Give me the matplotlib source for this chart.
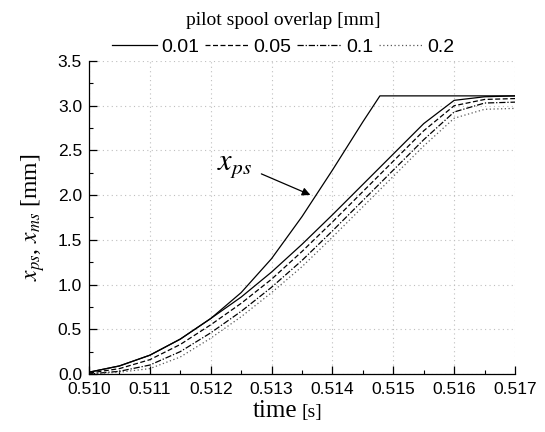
import matplotlib
matplotlib.use("Agg")
import matplotlib.pyplot as plt
from matplotlib.ticker import MultipleLocator, FormatStrFormatter

plt.rcParams['mathtext.fontset'] = 'stix'

# ---- data ----
t_ps = [0.5100, 0.5105, 0.5110, 0.5115, 0.5120, 0.5125, 0.5130, 0.5135, 0.5140, 0.5145, 0.51478, 0.5170]
x_ps = [0.02, 0.09, 0.21, 0.39, 0.62, 0.91, 1.29, 1.76, 2.28, 2.82, 3.11, 3.11]

t_ms = [0.5100, 0.5105, 0.5110, 0.5115, 0.5120, 0.5125, 0.5130, 0.5135, 0.5140,
        0.5145, 0.5150, 0.5155, 0.5160, 0.5165, 0.5170]
ms_001 = [0.02, 0.09, 0.21, 0.39, 0.62, 0.86, 1.14, 1.45, 1.78, 2.12, 2.46, 2.80, 3.06, 3.10, 3.11]
ms_005 = [0.01, 0.06, 0.16, 0.33, 0.55, 0.79, 1.06, 1.37, 1.70, 2.04, 2.38, 2.72, 3.00, 3.07, 3.08]
ms_01 = [0.00, 0.03, 0.10, 0.25, 0.46, 0.70, 0.97, 1.27, 1.60, 1.94, 2.28, 2.62, 2.93, 3.03, 3.04]
ms_02 = [0.00, 0.02, 0.06, 0.19, 0.40, 0.64, 0.91, 1.20, 1.53, 1.87, 2.21, 2.55, 2.86, 2.96, 2.97]
labels = ['0.01', '0.05', '0.1', '0.2']

fig = plt.figure(figsize=(5.45, 4.32), dpi=100)
ax = fig.add_axes([0.1633, 0.1343, 0.7817, 0.7245])

styles = ['-', (0, (4, 2)), (0, (5, 1.5, 1, 1.5)), (0, (1, 2))]
colors = ['k', 'k', 'k', '0.35']
series = [ms_001, ms_005, ms_01, ms_02]
for s, lab, ls, c in zip(series, labels, styles, colors):
    ax.plot(t_ms, s, color=c, linestyle=ls, lw=0.9, label=lab)
ax.plot(t_ps, x_ps, color='k', lw=0.9)

ax.set_xlim(0.510, 0.517)
ax.set_ylim(0.0, 3.5)
ax.xaxis.set_major_locator(MultipleLocator(0.001))
ax.xaxis.set_minor_locator(MultipleLocator(0.0005))
ax.yaxis.set_major_locator(MultipleLocator(0.5))
ax.yaxis.set_minor_locator(MultipleLocator(0.25))
ax.xaxis.set_major_formatter(FormatStrFormatter('%.3f'))
ax.yaxis.set_major_formatter(FormatStrFormatter('%.1f'))
ax.tick_params(which='both', direction='in', top=False, right=False)
ax.tick_params(which='major', length=6, width=0.9, labelsize=12.5)
ax.tick_params(axis='x', which='major', pad=6)
ax.tick_params(axis='y', which='major', pad=5)
ax.tick_params(which='minor', length=3, width=0.8)
for lbl in ax.get_xticklabels() + ax.get_yticklabels():
    lbl.set_fontfamily('Liberation Sans')
for sp in ['top', 'right']:
    ax.spines[sp].set_visible(False)
for sp in ['left', 'bottom']:
    ax.spines[sp].set_linewidth(0.9)
ax.grid(True, which='major', color='0.75', linestyle=(0, (1, 3)), lw=0.8)

# x label: "time" larger, "[s]" smaller, as in the reference
ax.text(0.489, -0.137, 'time', transform=ax.transAxes, ha='right', va='baseline',
        fontsize=18, fontfamily='Liberation Serif')
ax.text(0.499, -0.137, '[s]', transform=ax.transAxes, ha='left', va='baseline',
        fontsize=14, fontfamily='Liberation Serif')
ax.set_ylabel(r'$x_{ps}$, $x_{ms}$ [mm]', fontsize=17, fontfamily='Liberation Serif', labelpad=8)

ax.text(0.5121, 2.28, r'$x_{ps}$', fontsize=22, ha='left', va='baseline')
ax.annotate('', xy=(0.51368, 1.99), xytext=(0.51279, 2.25),
            arrowprops=dict(arrowstyle='-|>', color='k', lw=0.9, mutation_scale=12))

leg = fig.legend(loc='upper center', bbox_to_anchor=(0.52, 1.0), ncol=4, frameon=False,
                 title='pilot spool overlap [mm]', handlelength=2.3, handletextpad=0.2,
                 columnspacing=0.3, borderaxespad=0.2,
                 prop={'family': 'Liberation Sans', 'size': 14},
                 title_fontproperties={'family': 'Liberation Serif', 'size': 14})

fig.savefig('out.png', dpi=100)
